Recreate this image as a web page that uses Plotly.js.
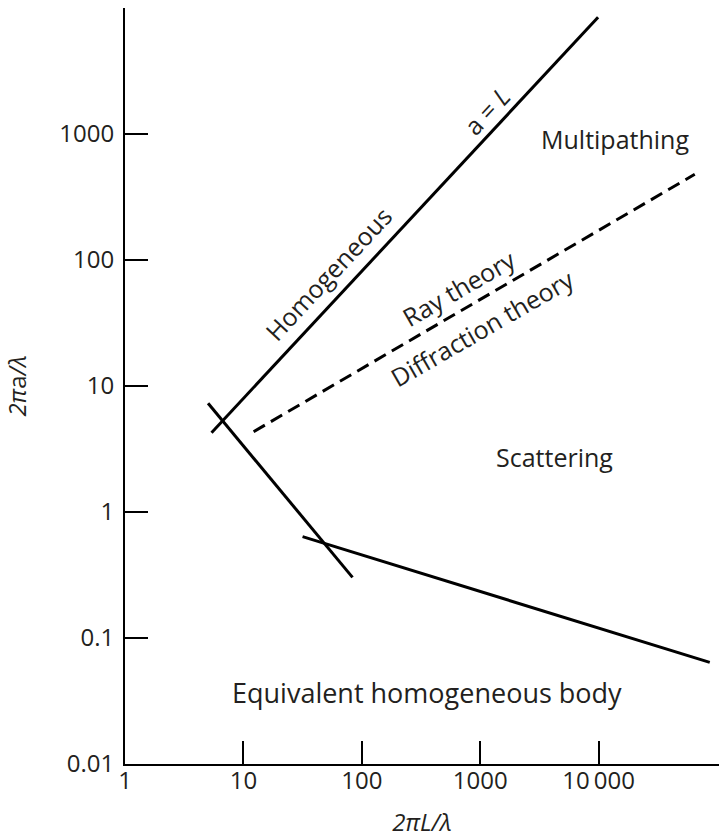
<!DOCTYPE html>
<html>
<head>
<meta charset="utf-8">
<script src="https://cdn.plot.ly/plotly-3.0.1.min.js"></script>
<style>html,body{margin:0;padding:0;background:#fff;}#chart{width:719px;height:838px;}</style>
</head>
<body>
<div id="chart"></div>
<script>
// Boundary lines (x = 2πL/λ, y = 2πa/λ)
const aEqualsLX = [5.38, 9900];
const aEqualsLY = [4.26, 8440];
const steepBoundaryX = [5.03, 83.5];
const steepBoundaryY = [7.29, 0.303];
const rayDiffractionX = [12.2, 64900];
const rayDiffractionY = [4.34, 479];
const lowerBoundaryX = [31.6, 86900];
const lowerBoundaryY = [0.637, 0.0641];

const xTickVals = [1, 10, 100, 1000, 10000];
const xTickText = ['1', '10', '100', '1000', '10\u2009000'];
const yTickVals = [0.01, 0.1, 1, 10, 100, 1000, 10000];
const yTickText = ['0.01', '0.1', '1', '10', '100', '1000', ''];

const ink = '#231f20';
const font = 'Open Sans, Noto Sans, sans-serif';

const solid = {color: '#000', width: 3};
const traces = [
  {x: aEqualsLX, y: aEqualsLY, mode: 'lines', line: solid},
  {x: steepBoundaryX, y: steepBoundaryY, mode: 'lines', line: solid},
  {x: rayDiffractionX, y: rayDiffractionY, mode: 'lines', line: {color: '#000', width: 3, dash: '13px,7px'}},
  {x: lowerBoundaryX, y: lowerBoundaryY, mode: 'lines', line: solid}
];

function label(text, lx, ly, angle, size) {
  return {text: text, x: lx, y: ly, xref: 'x', yref: 'y', showarrow: false,
          textangle: angle || 0, font: {family: font, size: size || 25, color: ink},
          xanchor: 'center', yanchor: 'middle'};
}

const layout = {
  width: 719, height: 838,
  margin: {l: 125, r: 0, t: 8, b: 74},
  paper_bgcolor: '#fff', plot_bgcolor: '#fff',
  showlegend: false,
  font: {family: font, color: ink, size: 24},
  xaxis: {
    type: 'log', range: [0, 5.017], autorange: false,
    tickmode: 'array', tickvals: xTickVals, ticktext: xTickText,
    ticks: 'inside', ticklen: 23, tickwidth: 2, tickcolor: '#000',
    showline: true, linecolor: '#000', linewidth: 2,
    showgrid: false, zeroline: false, mirror: false,
    tickfont: {family: font, size: 24, color: ink},
    ticklabelstandoff: -6,
    title: {text: '<i>2πL/λ</i>', font: {family: font, size: 24, color: ink}, standoff: 28}
  },
  yaxis: {
    type: 'log', range: [-2, 4], autorange: false,
    tickmode: 'array', tickvals: yTickVals, ticktext: yTickText,
    ticks: 'inside', ticklen: 23, tickwidth: 2, tickcolor: '#000',
    showline: true, linecolor: '#000', linewidth: 2,
    showgrid: false, zeroline: false, mirror: false,
    tickfont: {family: font, size: 24, color: ink},
    ticklabelstandoff: 4,
    title: {text: '<i>2π</i>a<i>/λ</i>', font: {family: font, size: 24, color: ink}, standoff: 32}
  },
  annotations: [
    label('a = <i>L</i>', 3.0515, 3.1825, -47),
    label('Homogeneous', 1.7213, 1.8929, -47),
    label('Ray theory', 2.815, 1.7817, -30),
    label('Diffraction theory', 3.0135, 1.4603, -30),
    label('Multipathing', 4.1368, 2.9603, 0),
    label('Scattering', 3.630, 0.4365, 0),
    label('Equivalent homogeneous body', 2.549, -1.4286, 0, 27)
  ]
};

Plotly.newPlot('chart', traces, layout, {displayModeBar: false, staticPlot: true});
</script>
</body>
</html>
